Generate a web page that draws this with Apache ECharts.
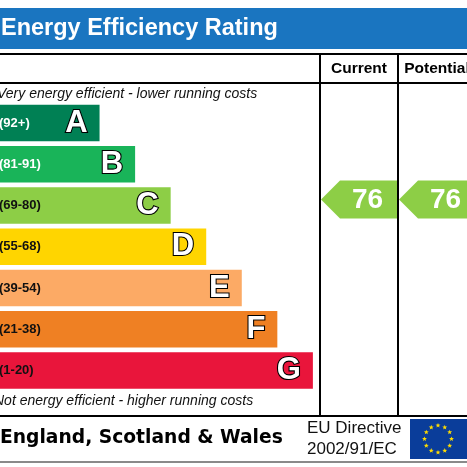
<!DOCTYPE html>
<html>
<head>
<meta charset="utf-8">
<script src="https://cdn.jsdelivr.net/npm/echarts@6/dist/echarts.min.js"></script>
<style>
html,body{margin:0;padding:0;background:#fff;}
#chart{width:467px;height:467px;}
</style>
</head>
<body>
<div id="chart"></div>
<script>
// ---- data ----
const categories = ['A', 'B', 'C', 'D', 'E', 'F', 'G'];
const rangeLabels = ['(92+)', '(81-91)', '(69-80)', '(55-68)', '(39-54)', '(21-38)', '(1-20)'];
const rangeMin = [92, 81, 69, 55, 39, 21, 1];
const barLength = [28, 38, 48, 58, 68, 78, 88];
const bandColors = ['#008054', '#19b459', '#8dce46', '#ffd500', '#fcaa65', '#ef8023', '#e9153b'];
const columns = ['Current', 'Potential'];
const ratings = [76, 76];

function bandOf(v) {
  for (let i = 0; i < rangeMin.length; i++) if (v >= rangeMin[i]) return i;
  return rangeMin.length - 1;
}

const chart = echarts.init(document.getElementById('chart'), null, {renderer: 'canvas'});

const FONT = '"Liberation Sans", Arial, sans-serif';
const gridTop = 102.4, gridH = 288.75;

// EU flag stars
const stars = [];
const cx = 438, cy = 439, R = 13.5;
for (let k = 0; k < 12; k++) {
  const a = k * Math.PI / 6;
  const sx = cx + R * Math.sin(a), sy = cy - R * Math.cos(a);
  const pts = [];
  for (let j = 0; j < 10; j++) {
    const r = j % 2 === 0 ? 2.6 : 1.1;
    const b = j * Math.PI / 5 - Math.PI / 2;
    pts.push([sx + r * Math.cos(b), sy + r * Math.sin(b)]);
  }
  stars.push({type: 'polygon', shape: {points: pts}, style: {fill: '#ffdd00'}, z: 20});
}

const lineStyle = {stroke: '#000', lineWidth: 2};

const option = {
  animation: false,
  grid: [
    {left: 0, top: gridTop, width: 320, height: gridH, containLabel: false, outerBoundsMode: 'none'},
    {left: 320, top: gridTop, width: 156, height: gridH, containLabel: false, outerBoundsMode: 'none'}
  ],
  xAxis: [
    {type: 'value', gridIndex: 0, min: 0, max: 90, show: false},
    {type: 'category', gridIndex: 1, data: columns, position: 'top',
     axisLine: {show: false}, axisTick: {show: false}, splitLine: {show: false},
     axisLabel: {show: true, margin: 34, fontSize: 15.5, fontWeight: 'bold', color: '#000',
                 fontFamily: FONT, verticalAlign: 'middle', lineHeight: 16, interval: 0}}
  ],
  yAxis: [
    {type: 'category', gridIndex: 0, data: categories, inverse: true, z: 5,
     axisLine: {show: false}, axisTick: {show: false}, splitLine: {show: false},
     axisLabel: {show: true, inside: true, margin: -1, interval: 0, fontSize: 13, fontWeight: 'bold',
                 fontFamily: FONT,
                 formatter: (v, i) => rangeLabels[i],
                 color: (v, i) => (i < 2 ? '#fff' : '#111')}},
    {type: 'category', gridIndex: 1, data: categories, inverse: true, show: false}
  ],
  series: [
    {
      type: 'bar', xAxisIndex: 0, yAxisIndex: 0, barWidth: 36.5,
      data: barLength.map((v, i) => ({value: v, itemStyle: {color: bandColors[i]}})),
      label: {
        show: true, position: 'insideRight', distance: 12,
        formatter: p => categories[p.dataIndex],
        fontSize: 31, fontWeight: 'bold', fontFamily: FONT, color: '#fff',
        textBorderColor: '#000', textBorderWidth: 2.2
      }
    },
    {
      type: 'custom', xAxisIndex: 1, yAxisIndex: 1, z: 10,
      data: ratings.map((r, i) => [i, bandOf(r), r]),
      renderItem: function (params, api) {
        const c = api.coord([api.value(0), api.value(1)]);
        const yc = c[1] - 6, h = 19;
        const x0 = c[0] - 38, xb = x0 + 19, x1 = c[0] + 38;
        return {
          type: 'group',
          children: [
            {type: 'polygon', shape: {points: [[x0, yc], [xb, yc - h], [x1, yc - h], [x1, yc + h], [xb, yc + h]]},
             style: {fill: bandColors[api.value(1)]}},
            {type: 'text', x: (xb + x1) / 2 - 1, y: yc + 1,
             style: {text: String(api.value(2)), fill: '#fff', font: 'bold 28px ' + FONT,
                     align: 'center', verticalAlign: 'middle'}}
          ]
        };
      }
    }
  ],
  graphic: [
    {type: 'rect', shape: {x: 0, y: 8, width: 467, height: 41}, style: {fill: '#1a75c0'}, z: 1},
    {type: 'text', x: 1, y: 28.5, z: 2,
     style: {text: 'Energy Efficiency Rating', fill: '#fff', font: 'bold 23.5px ' + FONT, verticalAlign: 'middle'}},
    {type: 'line', shape: {x1: 0, y1: 54, x2: 467, y2: 54}, style: lineStyle, z: 3},
    {type: 'line', shape: {x1: 0, y1: 83, x2: 467, y2: 83}, style: lineStyle, z: 3},
    {type: 'line', shape: {x1: 0, y1: 416, x2: 467, y2: 416}, style: lineStyle, z: 3},
    {type: 'line', shape: {x1: 320, y1: 54, x2: 320, y2: 416}, style: lineStyle, z: 3},
    {type: 'line', shape: {x1: 398, y1: 54, x2: 398, y2: 416}, style: lineStyle, z: 3},
    {type: 'line', shape: {x1: 0, y1: 462, x2: 467, y2: 462}, style: {stroke: '#8a8a8a', lineWidth: 2}, z: 3},
    {type: 'text', x: -3, y: 94, z: 3,
     style: {text: 'Very energy efficient - lower running costs', fill: '#111', font: 'italic 14px ' + FONT, verticalAlign: 'middle'}},
    {type: 'text', x: -6, y: 401, z: 3,
     style: {text: 'Not energy efficient - higher running costs', fill: '#111', font: 'italic 14px ' + FONT, verticalAlign: 'middle'}},
    {type: 'text', x: 0, y: 438, z: 3,
     style: {text: 'England, Scotland & Wales', fill: '#000', font: 'bold 18.7px "DejaVu Sans", Verdana, sans-serif', verticalAlign: 'middle'}},
    {type: 'text', x: 307, y: 428, z: 3,
     style: {text: 'EU Directive', fill: '#111', font: '17px ' + FONT, verticalAlign: 'middle'}},
    {type: 'text', x: 307, y: 449, z: 3,
     style: {text: '2002/91/EC', fill: '#111', font: '17px ' + FONT, verticalAlign: 'middle'}},
    {type: 'rect', shape: {x: 410, y: 419, width: 60, height: 40}, style: {fill: '#0a3d9a'}, z: 10}
  ].concat(stars)
};

chart.setOption(option);
</script>
</body>
</html>
